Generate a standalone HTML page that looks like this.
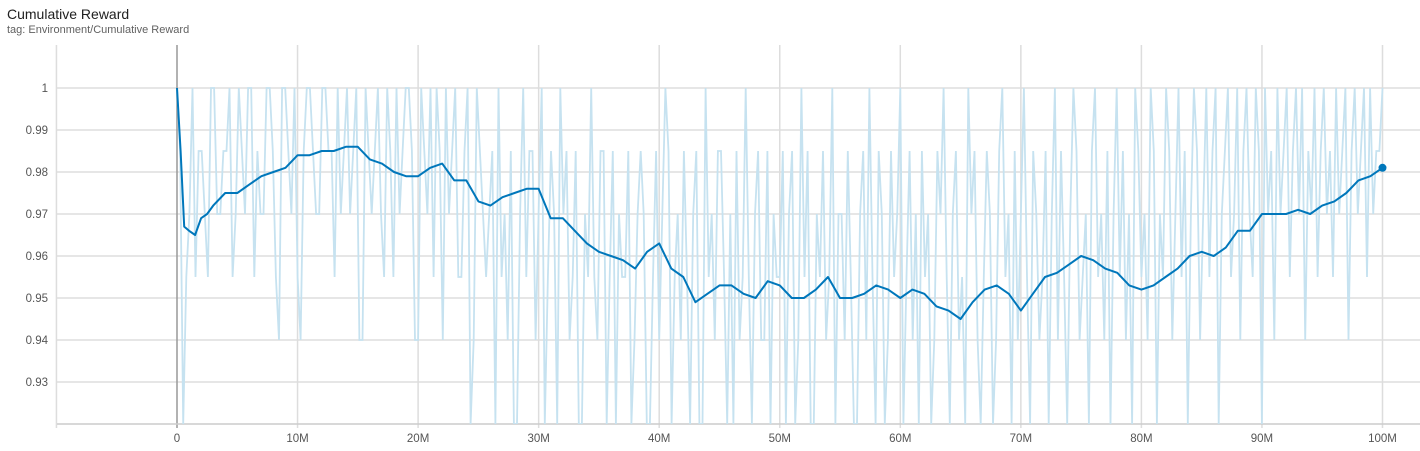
<!DOCTYPE html>
<html><head><meta charset="utf-8">
<style>
html,body{margin:0;background:#fff;width:1420px;height:451px;overflow:hidden;font-family:"Liberation Sans",Roboto,sans-serif;}
#title{position:absolute;left:7px;top:6px;font-size:14px;color:#212121;}
#tag{position:absolute;left:7px;top:24px;font-size:11px;color:#616161;}
svg{position:absolute;left:0;top:0;overflow:hidden;}
text{font-family:"Liberation Sans",sans-serif;font-size:11.5px;fill:#555;}
</style></head><body>
<div id="title">Cumulative Reward</div>
<div id="tag">tag: Environment/Cumulative Reward</div>
<svg id="chart" width="1420" height="451"></svg>
<script>
const xTicks=[0,10,20,30,40,50,60,70,80,90,100];
const xTickLabels=["0","10M","20M","30M","40M","50M","60M","70M","80M","90M","100M"];
const yTicks=[0.93,0.94,0.95,0.96,0.97,0.98,0.99,1];
const yTickLabels=["0.93","0.94","0.95","0.96","0.97","0.98","0.99","1"];
const smoothX=[0,0.3,0.6,1,1.5,2,2.5,3,4,5,6,7,8,9,10,11,12,13,14,15,16,17,18,19,20,21,22,23,24,25,26,27,28,29,30,31,32,33,34,35,36,37,38,39,40,41,42,43,44,45,46,47,48,49,50,51,52,53,54,55,56,57,58,59,60,61,62,63,64,65,66,67,68,69,70,71,72,73,74,75,76,77,78,79,80,81,82,83,84,85,86,87,88,89,90,91,92,93,94,95,96,97,98,99,100];
const smoothY=[1.0,0.985,0.967,0.966,0.965,0.969,0.970,0.972,0.975,0.975,0.977,0.979,0.980,0.981,0.984,0.984,0.985,0.985,0.986,0.986,0.983,0.982,0.980,0.979,0.979,0.981,0.982,0.978,0.978,0.973,0.972,0.974,0.975,0.976,0.976,0.969,0.969,0.966,0.963,0.961,0.960,0.959,0.957,0.961,0.963,0.957,0.955,0.949,0.951,0.953,0.953,0.951,0.950,0.954,0.953,0.950,0.950,0.952,0.955,0.950,0.950,0.951,0.953,0.952,0.950,0.952,0.951,0.948,0.947,0.945,0.949,0.952,0.953,0.951,0.947,0.951,0.955,0.956,0.958,0.960,0.959,0.957,0.956,0.953,0.952,0.953,0.955,0.957,0.960,0.961,0.960,0.962,0.966,0.966,0.970,0.970,0.970,0.971,0.970,0.972,0.973,0.975,0.978,0.979,0.981];
const rawY=[1.0,0.985,0.92,0.955,0.97,1.0,0.955,0.985,0.985,0.97,0.955,1.0,1.0,0.97,0.97,0.985,0.985,1.0,0.955,0.97,1.0,0.985,0.97,1.0,1.0,0.955,0.985,0.97,0.97,1.0,1.0,0.985,0.955,0.94,1.0,1.0,0.985,0.97,1.0,0.955,
0.94,0.985,1.0,1.0,0.985,0.97,0.97,1.0,1.0,0.985,0.985,0.955,1.0,0.97,0.985,1.0,0.97,0.985,1.0,0.94,0.94,1.0,0.985,0.97,0.985,1.0,0.97,0.955,1.0,0.985,0.955,1.0,0.97,0.985,1.0,1.0,0.985,0.94,0.94,1.0,
0.985,0.97,1.0,0.955,1.0,0.985,0.94,1.0,0.97,0.985,1.0,0.955,0.955,0.985,1.0,0.92,0.94,1.0,0.985,0.97,0.955,0.97,0.985,0.92,1.0,0.955,0.97,0.94,0.985,0.92,0.92,0.97,1.0,0.955,0.985,0.985,0.94,0.97,1.0,0.92,
0.955,0.985,0.97,0.92,1.0,0.97,0.985,0.94,0.955,0.985,0.92,0.92,0.97,0.955,1.0,0.955,0.94,0.985,0.985,0.92,0.955,0.985,0.92,0.97,0.955,0.955,0.985,0.92,0.94,0.97,0.985,0.97,0.92,0.92,0.955,0.985,0.94,0.97,1.0,0.985,
0.92,0.955,0.97,0.94,0.985,0.955,0.92,0.97,0.985,0.92,0.92,1.0,0.955,0.97,0.94,0.985,0.985,0.955,0.92,0.97,0.92,0.985,0.94,0.955,1.0,0.955,0.92,0.97,0.985,0.94,0.94,0.985,0.92,0.97,0.955,0.955,0.985,0.92,0.97,0.985,
0.92,0.94,1.0,0.955,0.985,0.92,0.92,0.97,0.955,0.985,0.94,0.955,1.0,0.92,0.97,0.97,0.94,0.985,0.955,0.92,0.92,0.97,0.985,0.94,1.0,0.955,0.92,0.985,0.97,0.92,0.94,0.985,0.955,0.97,1.0,0.92,0.955,0.985,0.94,0.97,
0.92,0.985,0.955,0.97,0.92,0.94,0.985,0.97,1.0,0.955,0.92,0.97,0.985,0.94,0.955,0.92,1.0,0.97,0.985,0.94,0.92,0.955,0.985,0.97,0.92,0.94,0.985,1.0,0.955,0.97,0.92,0.985,0.94,0.97,1.0,0.955,0.92,0.985,0.97,0.94,
0.955,0.985,0.92,0.97,1.0,0.94,0.985,0.955,0.92,0.97,1.0,0.985,0.94,0.955,0.97,0.92,0.985,1.0,0.955,0.97,0.94,0.985,0.92,0.97,1.0,0.955,0.985,0.94,0.97,0.92,1.0,0.985,0.955,0.97,0.94,1.0,0.985,0.92,0.97,0.955,
1.0,0.985,0.94,0.97,1.0,0.955,0.985,0.92,0.97,1.0,0.985,0.94,0.97,1.0,0.955,0.985,1.0,0.92,0.97,0.985,1.0,0.955,0.97,1.0,0.94,0.985,1.0,0.97,0.955,1.0,0.985,0.92,1.0,0.97,0.985,0.94,1.0,0.97,0.985,1.0,
0.955,0.985,1.0,0.97,1.0,0.94,0.985,0.97,1.0,0.955,0.985,1.0,0.97,0.985,0.955,1.0,0.97,0.985,1.0,0.94,0.985,1.0,0.97,0.985,1.0,0.955,1.0,0.97,0.985,0.985,1.0];

const NS='http://www.w3.org/2000/svg';
const svg=document.getElementById('chart');
const L=57,R=1420,T=45,B=424;
const xs=v=>177+v*12.055;
const ys=v=>88+(1-v)*4200;
function mk(tag,attrs,parent){const e=document.createElementNS(NS,tag);for(const k in attrs)e.setAttribute(k,attrs[k]);(parent||svg).appendChild(e);return e;}
const defs=mk('defs',{});
const cp=mk('clipPath',{id:'clip'},defs);mk('rect',{x:L,y:T,width:R-L,height:B-T},cp);
for(let i=0;i<yTicks.length;i++){
  const g=mk('line',{x1:L,x2:R,y1:ys(yTicks[i]),y2:ys(yTicks[i]),stroke:'#ddd','stroke-width':1.5});
  
  
  const t=mk('text',{x:48,y:ys(yTicks[i])+4,'text-anchor':'end'});
  t.textContent=yTickLabels[i];
  
  
}
const vg=[-10].concat(xTicks);
for(const v of vg){
  const g=mk('line',{x1:xs(v),x2:xs(v),y1:T,y2:B+4,stroke:v===0?'#999':'#ddd','stroke-width':1.5});
  
  
}
for(let i=0;i<xTicks.length;i++){
  const t=mk('text',{x:xs(xTicks[i]),y:442,'text-anchor':'middle'});
  t.textContent=xTickLabels[i];
  
  
}
const ax=mk('line',{x1:L,x2:R,y1:B,y2:B,stroke:'#ccc','stroke-width':1.5});


const step=100/(rawY.length-1);
let d='';rawY.forEach((v,i)=>{d+=(i?'L':'M')+xs(i*step).toFixed(1)+','+ys(v).toFixed(1);});
const raw=mk('path',{d:d,fill:'none',stroke:'#c6e2f0','stroke-width':1.8,'clip-path':'url(#clip)'});


d='';smoothY.forEach((v,i)=>{d+=(i?'L':'M')+xs(smoothX[i]).toFixed(1)+','+ys(v).toFixed(1);});
const sm=mk('path',{d:d,fill:'none',stroke:'#0077bb','stroke-width':2,'stroke-linejoin':'round','clip-path':'url(#clip)'});


const n=smoothY.length-1;
const dot=mk('circle',{cx:xs(smoothX[n]),cy:ys(smoothY[n]),r:4,fill:'#0077bb'});


</script>
</body></html>
